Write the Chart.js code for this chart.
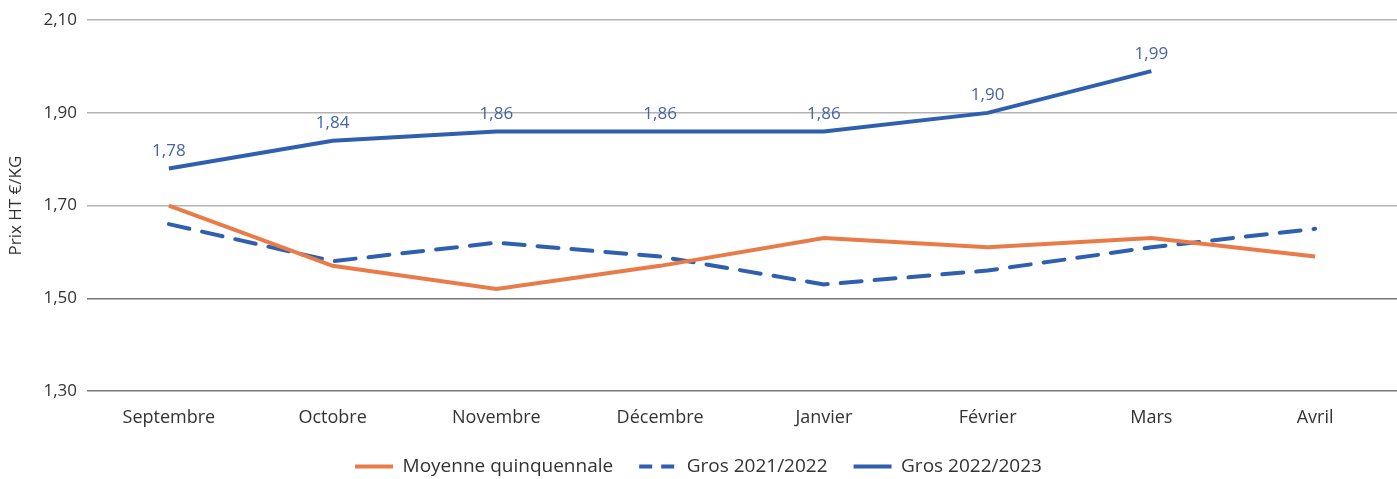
<!DOCTYPE html>
<html>
<head>
<meta charset="utf-8">
<script src="https://cdn.jsdelivr.net/npm/chart.js@4/dist/chart.umd.min.js"></script>
<style>
  html, body { margin: 0; padding: 0; background: #fff; }
  #wrap { width: 1397px; height: 479px; }
</style>
</head>
<body>
<div id="wrap"><canvas id="chart"></canvas></div>
<script>
// Données
const mois = ["Septembre", "Octobre", "Novembre", "Décembre", "Janvier", "Février", "Mars", "Avril"];
const moyenneQuinquennale = [1.70, 1.57, 1.52, 1.57, 1.63, 1.61, 1.63, 1.59];
const gros2122 = [1.66, 1.58, 1.62, 1.59, 1.53, 1.56, 1.61, 1.65];
const gros2223 = [1.78, 1.84, 1.86, 1.86, 1.86, 1.90, 1.99, null];
const yTicks = [1.30, 1.50, 1.70, 1.90, 2.10];

const ORANGE = "#E97B48";
const BLUE = "#2F5FAF";
const FONT = "'Open Sans', sans-serif";

const fmt = (v) => v.toFixed(2).replace(".", ",");

// etiquettes au-dessus de la courbe 2022/2023
const valueLabels = {
  id: "valueLabels",
  afterDatasetsDraw(chart) {
    const ctx = chart.ctx;
    const meta = chart.getDatasetMeta(2);
    ctx.save();
    ctx.font = "17px " + FONT;
    ctx.fillStyle = "#4563A8";
    ctx.textAlign = "center";
    ctx.textBaseline = "bottom";
    meta.data.forEach((pt, i) => {
      const v = gros2223[i];
      if (v == null) return;
      ctx.fillText(fmt(v), pt.x, pt.y - 9);
    });
    ctx.restore();
  }
};

const ctx = document.getElementById("chart").getContext("2d");
new Chart(ctx, {
  type: "line",
  data: {
    labels: mois,
    datasets: [
      {
        label: "Moyenne quinquennale",
        data: moyenneQuinquennale,
        borderColor: ORANGE,
        backgroundColor: ORANGE,
        borderWidth: 4,
        pointRadius: 0,
        tension: 0,
      },
      {
        label: "Gros 2021/2022",
        data: gros2122,
        borderColor: BLUE,
        backgroundColor: BLUE,
        borderWidth: 4,
        borderDash: [21, 13],
        borderCapStyle: "round",
        pointRadius: 0,
        tension: 0,
      },
      {
        label: "Gros 2022/2023",
        data: gros2223,
        borderColor: BLUE,
        backgroundColor: BLUE,
        borderWidth: 4,
        pointRadius: 0,
        tension: 0,
      },
    ],
  },
  options: {
    responsive: true,
    maintainAspectRatio: false,
    animation: false,
    layout: { padding: { top: 2, right: 0, left: 0, bottom: 0 } },
    plugins: {
      tooltip: { enabled: false },
      legend: {
        position: "bottom",
        maxHeight: 48,
        labels: {
          usePointStyle: true,
          pointStyle: "line",
          pointStyleWidth: 38,
          boxHeight: 4,
          padding: 26,
          color: "#333",
          font: { family: FONT, size: 19 },
          generateLabels(chart) {
            return chart.data.datasets.map((ds, i) => ({
              text: ds.label,
              fillStyle: ds.borderColor,
              strokeStyle: ds.borderColor,
              lineWidth: 4,
              lineDash: i === 1 ? [13, 9] : [],
              lineCap: "butt",
              pointStyle: "line",
              datasetIndex: i,
              fontColor: "#333",
            }));
          },
        },
      },
    },
    scales: {
      x: {
        offset: true,
        grid: { display: false },
        border: { display: false },
        ticks: { color: "#333", font: { family: FONT, size: 18 }, padding: 8 },
        afterFit(axis) {
          axis.height = 40;
        },
      },
      y: {
        min: 1.30,
        max: 2.10,
        afterBuildTicks(axis) {
          axis.ticks = yTicks.map((v) => ({ value: v }));
        },
        afterFit(axis) {
          axis.width = 87;
        },
        grid: {
          color: (c) => (c.tick && c.tick.value <= 1.5 ? "#777" : "#b3b3b3"),
          lineWidth: 1.5,
          drawTicks: false,
        },
        border: { display: false },
        ticks: {
          color: "#333",
          font: { family: FONT, size: 17 },
          padding: 10,
          callback: (v) => fmt(v),
        },
        title: {
          display: true,
          text: "Prix HT €/KG",
          color: "#333",
          font: { family: FONT, size: 17 },
          padding: { top: 6, bottom: 0 },
        },
      },
    },
  },
  plugins: [valueLabels],
});
</script>
</body>
</html>
